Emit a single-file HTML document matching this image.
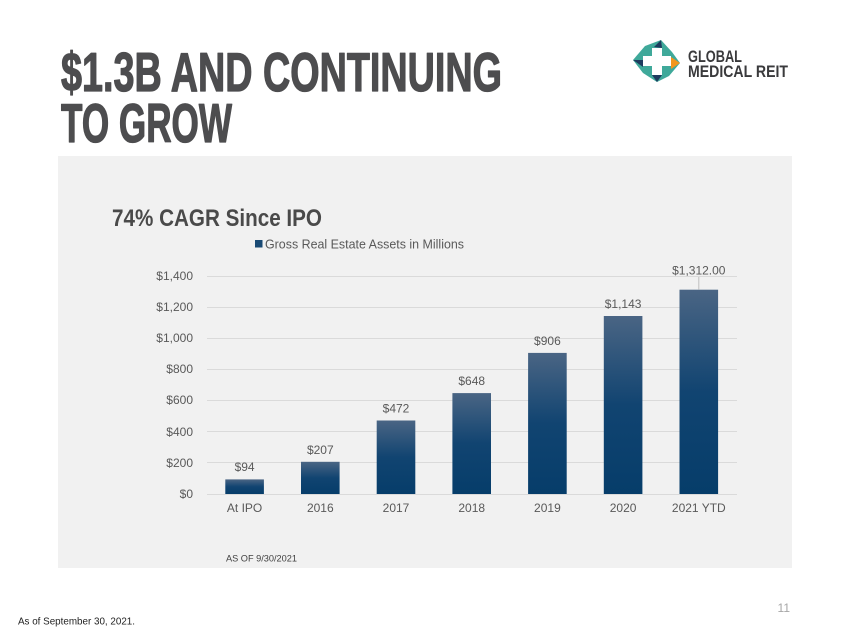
<!DOCTYPE html>
<html><head><meta charset="utf-8"><style>
html,body{margin:0;padding:0;background:#fff;}
svg{display:block;}
</style></head><body>
<svg width="850" height="638" viewBox="0 0 850 638" xmlns="http://www.w3.org/2000/svg">
<defs>
<linearGradient id="bg" x1="0" y1="0" x2="0" y2="1">
<stop offset="0" stop-color="#4a6584"/>
<stop offset="0.5" stop-color="#114471"/>
<stop offset="1" stop-color="#063d6a"/>
</linearGradient>
</defs>
<rect width="850" height="638" fill="#fff"/>
<!-- Title -->
<g font-family="'Liberation Sans Narrow','Liberation Sans',sans-serif" font-weight="bold" font-size="55" fill="#4d4d4f" stroke="#4d4d4f" stroke-width="1.3" stroke-linejoin="round">
<text x="61" y="91" textLength="441" lengthAdjust="spacingAndGlyphs">$1.3B AND CONTINUING</text>
<text x="61" y="142" textLength="171" lengthAdjust="spacingAndGlyphs">TO GROW</text>
</g>
<!-- Logo -->
<g>
<polygon points="645,46 661,40 672,52 680,63 669,76 657,82 643,73 633,60" fill="#3fa99a"/>
<rect x="652" y="48" width="10" height="27" fill="#fff"/>
<rect x="643" y="56" width="28" height="10" fill="#fff"/>
<polygon points="654,47 661,40 662,48" fill="#1d3b5e"/>
<polygon points="633,60 643,60 643,67" fill="#1d3b5e"/>
<polygon points="652,75 662,75 657,82" fill="#1d3b5e"/>
<polygon points="671,57 680,63 671,69" fill="#f2961c"/>
</g>
<g font-family="'Liberation Sans',sans-serif" font-weight="bold" font-size="16.5" fill="#3a3a3c">
<text x="688" y="62" textLength="54" lengthAdjust="spacingAndGlyphs">GLOBAL</text>
<text x="688" y="77" textLength="100" lengthAdjust="spacingAndGlyphs">MEDICAL REIT</text>
</g>
<!-- Panel -->
<rect x="58" y="156" width="734" height="412" fill="#f1f1f1"/>
<text x="112" y="226" font-family="'Liberation Sans',sans-serif" font-weight="bold" font-size="24.5" fill="#4a4a4a" textLength="210" lengthAdjust="spacingAndGlyphs">74% CAGR Since IPO</text>
<rect x="255" y="240" width="7.5" height="7.5" fill="#1a4a74"/>
<text x="265" y="248.5" font-family="'Liberation Sans',sans-serif" font-size="12.5" fill="#595959" textLength="199" lengthAdjust="spacingAndGlyphs">Gross Real Estate Assets in Millions</text>
<!-- gridlines -->
<g stroke="#dadada" stroke-width="1">
<line x1="207" x2="737" y1="276.5" y2="276.5"/>
<line x1="207" x2="737" y1="307.5" y2="307.5"/>
<line x1="207" x2="737" y1="338.5" y2="338.5"/>
<line x1="207" x2="737" y1="369.5" y2="369.5"/>
<line x1="207" x2="737" y1="400.5" y2="400.5"/>
<line x1="207" x2="737" y1="431.5" y2="431.5"/>
<line x1="207" x2="737" y1="462.5" y2="462.5"/>
<line x1="207" x2="737" y1="494.5" y2="494.5"/>
</g>
<g font-family="'Liberation Sans',sans-serif" font-size="12" fill="#595959" text-anchor="end">
<text x="193" y="280">$1,400</text>
<text x="193" y="311">$1,200</text>
<text x="193" y="342">$1,000</text>
<text x="193" y="373">$800</text>
<text x="193" y="404">$600</text>
<text x="193" y="436">$400</text>
<text x="193" y="467">$200</text>
<text x="193" y="498">$0</text>
</g>
<!-- bars -->
<g fill="url(#bg)">
<rect x="225.3" y="479.4" width="38.6" height="14.6"/>
<rect x="301" y="461.8" width="38.6" height="32.2"/>
<rect x="376.7" y="420.5" width="38.6" height="73.5"/>
<rect x="452.4" y="393.1" width="38.6" height="100.9"/>
<rect x="528.1" y="352.9" width="38.6" height="141.1"/>
<rect x="603.8" y="316" width="38.6" height="178"/>
<rect x="679.5" y="289.7" width="38.6" height="204.3"/>
</g>
<line x1="698.8" x2="698.8" y1="277" y2="289.7" stroke="#bfbfbf" stroke-width="1"/>
<g font-family="'Liberation Sans',sans-serif" font-size="12" fill="#595959" text-anchor="middle">
<text x="244.6" y="471">$94</text>
<text x="320.3" y="454">$207</text>
<text x="396" y="412.5">$472</text>
<text x="471.7" y="385">$648</text>
<text x="547.4" y="345">$906</text>
<text x="623.1" y="308">$1,143</text>
<text x="698.8" y="274.5">$1,312.00</text>
</g>
<g font-family="'Liberation Sans',sans-serif" font-size="12" fill="#595959" text-anchor="middle">
<text x="244.6" y="512">At IPO</text>
<text x="320.3" y="512">2016</text>
<text x="396" y="512">2017</text>
<text x="471.7" y="512">2018</text>
<text x="547.4" y="512">2019</text>
<text x="623.1" y="512">2020</text>
<text x="698.8" y="512">2021 YTD</text>
</g>
<text x="226" y="561.5" font-family="'Liberation Sans',sans-serif" font-size="9.5" fill="#404040" textLength="71" lengthAdjust="spacingAndGlyphs">AS OF 9/30/2021</text>
<!-- footer -->
<text x="18" y="624.5" font-family="'Liberation Sans Narrow','Liberation Sans',sans-serif" font-size="10.5" fill="#222" textLength="117" lengthAdjust="spacingAndGlyphs">As of September 30, 2021.</text>
<text x="790" y="612" font-family="'Liberation Sans',sans-serif" font-size="12" fill="#a6a6a6" text-anchor="end">11</text>
</svg>
</body></html>
